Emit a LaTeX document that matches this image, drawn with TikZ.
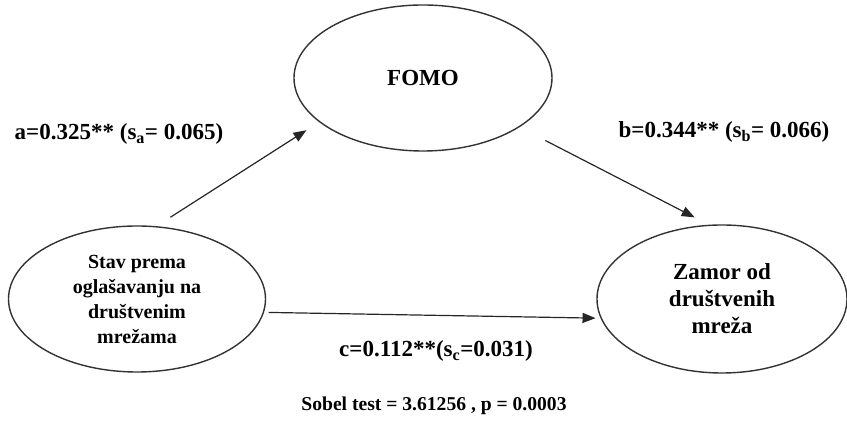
\documentclass[tikz,border=0pt]{standalone}
\usepackage{fontspec}
\setmainfont{Liberation Serif}
\usetikzlibrary{positioning, calc, arrows.meta, shapes.geometric}

\begin{document}
\begin{tikzpicture}[x=1pt,y=1pt,
    var/.style={ellipse, draw=black!80, line width=1.4pt, align=center, inner sep=0pt, font=\bfseries},
    path/.style={-{Triangle[length=13pt,width=10pt]}, line width=1.2pt, draw=black!85},
    coef/.style={font=\bfseries\fontsize{23}{27}\selectfont}]
    \useasboundingbox (0,0) rectangle (847,425);
    % latent variables
    \node[var, minimum width=258, minimum height=146, font=\bfseries\fontsize{23}{27}\selectfont] (fomo) at (423,347) {FOMO};
    \node[var, minimum width=257, minimum height=146, font=\bfseries\fontsize{20}{25}\selectfont] (stav) at (137,126) {Stav prema\\oglašavanju na\\društvenim\\mrežama};
    \node[var, minimum width=250, minimum height=148, font=\bfseries\fontsize{23}{27}\selectfont] (zamor) at (722,126) {Zamor od\\društvenih\\mreža};
    % paths
    \draw[path, shorten <=16.5pt, shorten >=15pt] (stav.75) -- (fomo.203);
    \draw[path, shorten <=29pt, shorten >=16pt] (fomo.-27) -- (zamor.100);
    \draw[path, shorten <=4.6pt, shorten >=5pt] (stav.-6) -- (zamor.189);
    % coefficients
    \node[coef] (lbla) at (119,291) {a=0.325** (s\textsubscript{a}= 0.065)};
    \node[coef] (lblb) at (724,293) {b=0.344** (s\textsubscript{b}= 0.066)};
    \node[coef] (lblc) at (436,74) {c=0.112**(s\textsubscript{c}=0.031)};
    \node[coef, font=\bfseries\fontsize{19.6}{23}\selectfont] (sobel) at (434,19) {Sobel test = 3.61256 , p = 0.0003};
\end{tikzpicture}
\end{document}
